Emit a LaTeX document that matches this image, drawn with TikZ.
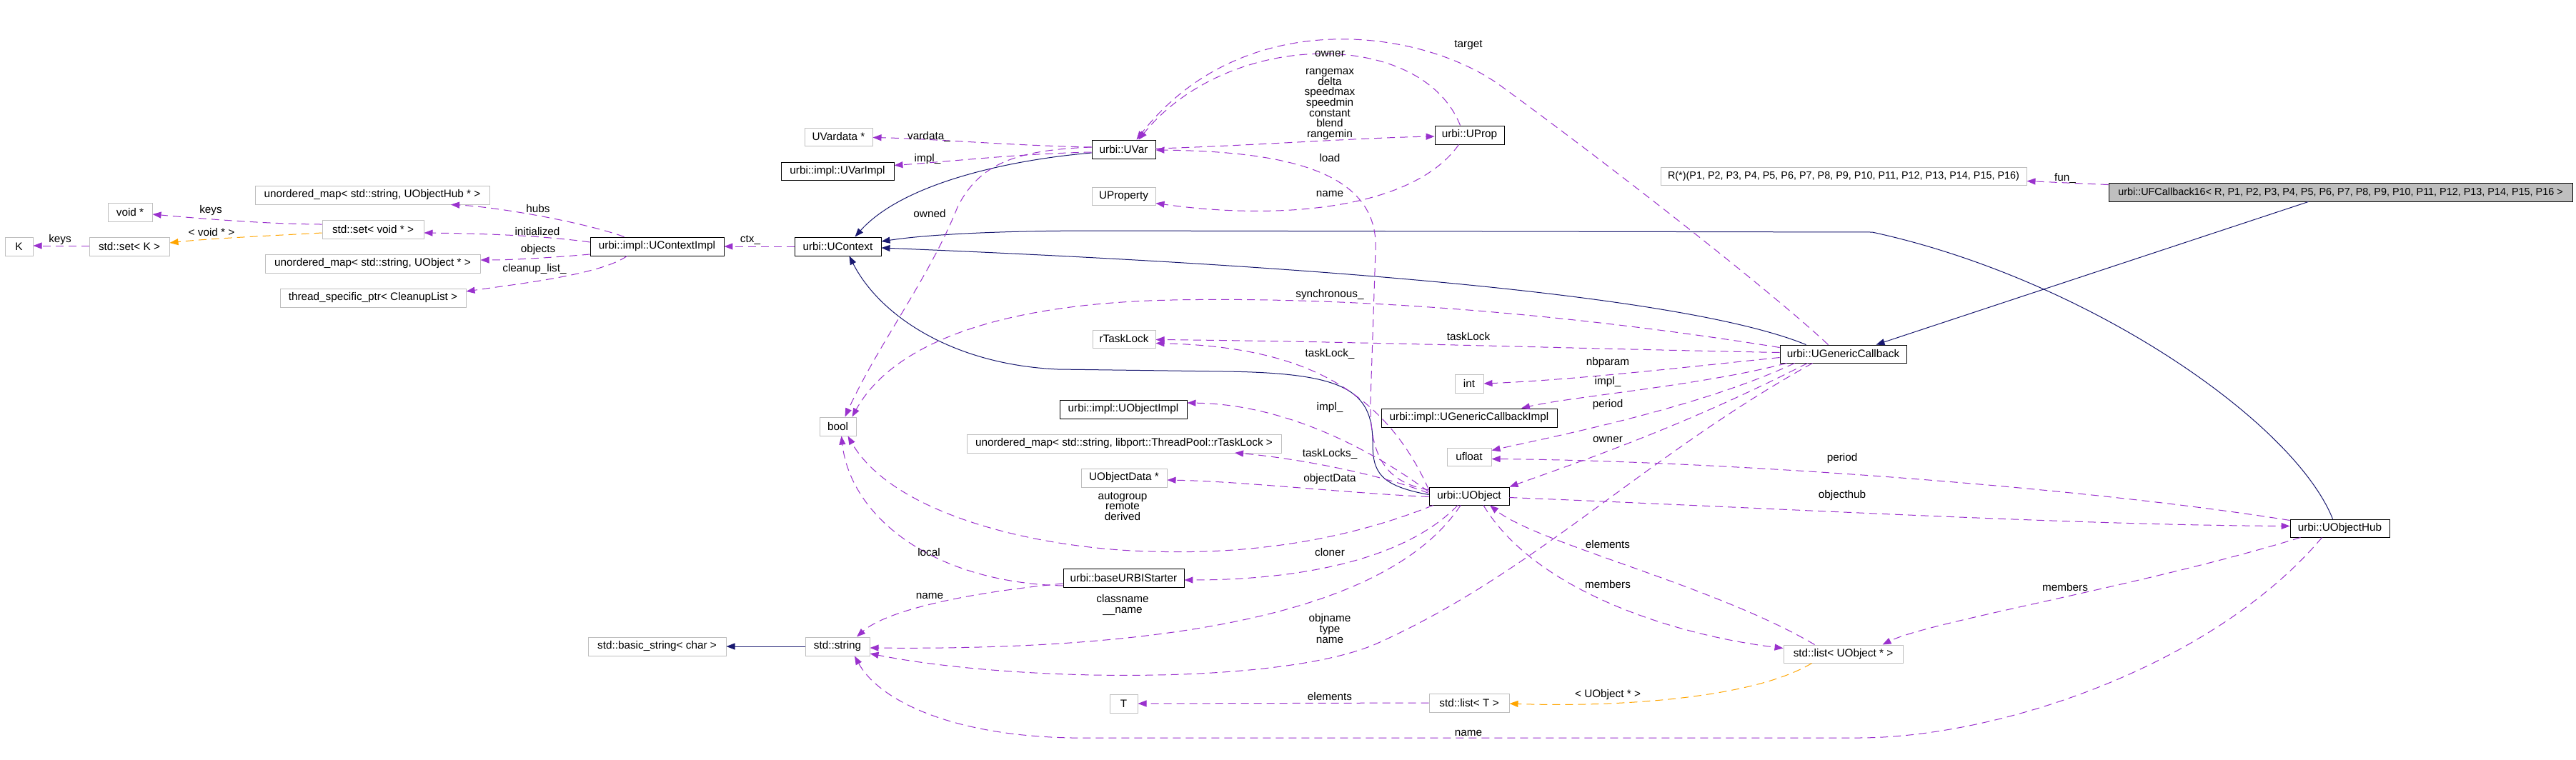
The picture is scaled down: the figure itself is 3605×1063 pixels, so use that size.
\documentclass[tikz,border=0pt]{standalone}
\usepackage{fontspec}
\setmainfont{Liberation Sans}
\usetikzlibrary{arrows.meta}
\definecolor{mpurple}{HTML}{9A32CD}
\definecolor{morange}{HTML}{FFA500}
\definecolor{mnavy}{HTML}{191970}
\definecolor{boxgray}{HTML}{BFBFBF}
\newcommand\fs{\fontsize{15.3}{14.7}\selectfont}
\newcommand\fsm{\fontsize{14.4}{14.7}\selectfont}
\newcommand\nodebox[7]{\node[#1,minimum width={(#5-#3)*1pt},minimum height={(#6-#4)*1pt}] (#2) at ({(#3+#5)/2},{(#4+#6)/2}) {#7};}
\begin{document}
\begin{tikzpicture}[x=1pt,y=-1pt,
  bbox/.style={draw=black,line width=0.9pt,fill=white,inner sep=0pt,font=\fs},
  gbox/.style={draw=boxgray,line width=1pt,fill=white,inner sep=0pt,font=\fs},
  fbox/.style={draw=black,line width=0.9pt,fill=boxgray,inner sep=0pt,font=\fsm},
  hbox/.style={draw=boxgray,line width=1pt,fill=white,inner sep=0pt,font=\fsm},
  mem/.style={draw=mpurple,line width=1pt,dash pattern=on 11pt off 7pt,-{Triangle[length=12pt,width=9pt]}},
  tpl/.style={draw=morange,line width=1pt,dash pattern=on 11pt off 7pt,-{Triangle[length=12pt,width=9pt]}},
  inh/.style={draw=mnavy,line width=1pt,-{Triangle[length=12pt,width=9pt]}},
  lbl/.style={font=\fs,inner sep=0pt,align=center}]
\useasboundingbox (0,0) rectangle (3605,1063);
\fill[white] (0,0) rectangle (3605,1063);
% nodes
\nodebox{fbox}{ufc}{2951}{256}{3600}{282}{urbi::UFCallback16< R, P1, P2, P3, P4, P5, P6, P7, P8, P9, P10, P11, P12, P13, P14, P15, P16 >}
\nodebox{hbox}{rfun}{2324}{234}{2836}{259}{R(*)(P1, P2, P3, P4, P5, P6, P7, P8, P9, P10, P11, P12, P13, P14, P15, P16)}
\nodebox{bbox}{ugc}{2491}{483}{2668}{508}{urbi::UGenericCallback}
\nodebox{bbox}{uvar}{1528}{196}{1617}{222}{urbi::UVar}
\nodebox{bbox}{uprop}{2008}{176}{2105}{202}{urbi::UProp}
\nodebox{gbox}{uvardata}{1126}{179}{1221}{204}{UVardata *}
\nodebox{bbox}{uvarimpl}{1093}{227}{1251}{252}{urbi::impl::UVarImpl}
\nodebox{gbox}{uproperty}{1528}{262}{1617}{287}{UProperty}
\nodebox{bbox}{ucontext}{1112}{332}{1233}{358}{urbi::UContext}
\nodebox{bbox}{ucimpl}{826}{332}{1013}{358}{urbi::impl::UContextImpl}
\nodebox{gbox}{hubs}{357}{260}{685}{286}{unordered\_map< std::string, UObjectHub * >}
\nodebox{gbox}{voidp}{151}{284}{213}{310}{void *}
\nodebox{gbox}{setvoid}{451}{308}{593}{334}{std::set< void * >}
\nodebox{gbox}{setk}{125}{332}{237}{358}{std::set< K >}
\nodebox{gbox}{K}{7}{332}{46}{358}{K}
\nodebox{gbox}{objmap}{371}{356}{672}{382}{unordered\_map< std::string, UObject * >}
\nodebox{gbox}{tsp}{392}{404}{652}{430}{thread\_specific\_ptr< CleanupList >}
\nodebox{gbox}{rtask}{1529}{462}{1617}{487}{rTaskLock}
\nodebox{gbox}{bool}{1147}{584}{1198}{610}{bool}
\nodebox{bbox}{uobjimpl}{1483}{560}{1661}{586}{urbi::impl::UObjectImpl}
\nodebox{gbox}{tlmap}{1353}{608}{1793}{634}{unordered\_map< std::string, libport::ThreadPool::rTaskLock >}
\nodebox{gbox}{uobjdata}{1513}{656}{1633}{682}{UObjectData *}
\nodebox{gbox}{int}{2036}{524}{2076}{550}{int}
\nodebox{bbox}{ugcimpl}{1933}{572}{2179}{598}{urbi::impl::UGenericCallbackImpl}
\nodebox{gbox}{ufloat}{2025}{627}{2087}{652}{ufloat}
\nodebox{bbox}{uobject}{2000}{682}{2112}{707}{urbi::UObject}
\nodebox{bbox}{hub}{3205}{727}{3344}{752}{urbi::UObjectHub}
\nodebox{gbox}{listuo}{2496}{903}{2663}{928}{std::list< UObject * >}
\nodebox{gbox}{listt}{2000}{971}{2112}{997}{std::list< T >}
\nodebox{bbox}{starter}{1488}{796}{1657}{822}{urbi::baseURBIStarter}
\nodebox{gbox}{str}{1127}{892}{1217}{918}{std::string}
\nodebox{gbox}{basicstr}{823}{892}{1016}{918}{std::basic\_string< char >}
\nodebox{gbox}{T}{1553}{972}{1592}{998}{T}
% inheritance
\draw[inh] ([shift={(-45,0)}]ufc.south) -- ([shift={(46,0)}]ugc.north);
\draw[inh] ([shift={(0,5)}]uvar.west) .. controls (1400,225) and (1260,260) .. ([shift={(24,0)}]ucontext.north);
\draw[inh] ([shift={(-52,0)}]ugc.north) .. controls (2350,410) and (1800,370) .. ([shift={(0,2)}]ucontext.east);
\draw[inh] ([shift={(-10,0)}]hub.north) .. controls (3210,590) and (2920,390) .. (2620,325) -- (1534,323) .. controls (1400,323) and (1300,328) .. ([shift={(0,-7)}]ucontext.east);
\draw[inh] ([shift={(0,-2)}]uobject.west) .. controls (1930,680) and (1921,660) .. (1921,620) .. controls (1921,545) and (1880,522) .. (1712,520) -- (1480,517) .. controls (1330,510) and (1230,440) .. ([shift={(16,0)}]ucontext.south);
\draw[inh] (str.west) -- (basicstr.east);
% members
\draw[mem] ([shift={(0,3)}]ufc.north west) -- ([shift={(0,7)}]rfun.east);
\draw[mem] ([shift={(0,-3)}]uvar.west) .. controls (1420,204) and (1300,194) .. ([shift={(0,1)}]uvardata.east);
\draw[mem] ([shift={(0,4)}]uvar.west) .. controls (1430,215) and (1330,226) .. ([shift={(0,-8)}]uvarimpl.east);
\draw[mem] ([shift={(0,-1)}]uvar.east) .. controls (1750,204) and (1900,193) .. ([shift={(0,2)}]uprop.west);
\draw[mem] ([shift={(-13,0)}]uprop.north) .. controls (1990,40) and (1720,40) .. ([shift={(21,0)}]uvar.north);
\draw[mem] ([shift={(-21,0)}]ugc.north) .. controls (2470,400) and (2232,216) .. (2100,120) .. controls (1990,40) and (1740,5) .. ([shift={(18,0)}]uvar.north);
\draw[mem] ([shift={(0,-8.5)}]uobject.west) .. controls (1940,675) and (1916,640) .. (1918,560) -- (1925,350) .. controls (1930,240) and (1800,212) .. ([shift={(0,1)}]uvar.east);
\draw[mem] ([shift={(-15,0)}]uprop.south) .. controls (1980,290) and (1800,310) .. ([shift={(0,10)}]uproperty.east);
\draw[mem] (ucontext.west) -- (ucimpl.east);
\draw[mem] ([shift={(-46,0)}]ucimpl.north) .. controls (820,312) and (700,290) .. ([shift={(110,0)}]hubs.south);
\draw[mem] ([shift={(0,-6)}]ucimpl.west) .. controls (760,330) and (680,327) .. ([shift={(0,5)}]setvoid.east);
\draw[mem] ([shift={(0,11)}]ucimpl.west) .. controls (780,360) and (720,364) .. ([shift={(0,-5)}]objmap.east);
\draw[mem] ([shift={(-42,0)}]ucimpl.south) .. controls (840,385) and (720,398) .. ([shift={(0,-9)}]tsp.east);
\draw[mem] ([shift={(0,-7)}]setvoid.west) .. controls (380,314) and (280,306) .. ([shift={(0,3)}]voidp.east);
\draw[tpl] ([shift={(0,5)}]setvoid.west) .. controls (380,330) and (290,334) .. ([shift={(0,-5)}]setk.east);
\draw[mem] ([shift={(0,-1)}]setk.west) -- ([shift={(0,-1)}]K.east);
\draw[mem] ([shift={(0,-3)}]uvar.west) .. controls (1420,210) and (1370,230) .. (1340,290) .. controls (1300,390) and (1230,480) .. ([shift={(10,0)}]bool.north);
\draw[mem] ([shift={(0,-9)}]ugc.west) .. controls (2200,440) and (1900,415) .. (1640,420) .. controls (1400,425) and (1250,480) .. ([shift={(20,0)}]bool.north);
\draw[mem] ([shift={(0,-2)}]ugc.west) .. controls (2200,488) and (1900,478) .. ([shift={(0,1)}]rtask.east);
\draw[mem] ([shift={(0,4)}]uobject.north west) .. controls (1930,530) and (1800,485) .. ([shift={(0,6)}]rtask.east);
\draw[mem] ([shift={(0,-6)}]uobject.west) .. controls (1920,630) and (1800,566) .. ([shift={(0,-9)}]uobjimpl.east);
\draw[mem] ([shift={(0,-4)}]uobject.west) .. controls (1920,660) and (1800,640) .. ([shift={(155,13)}]tlmap.center);
\draw[mem] ([shift={(0,1)}]uobject.west) .. controls (1880,690) and (1740,674) .. ([shift={(0,3)}]uobjdata.east);
\draw[mem] ([shift={(6,0)}]uobject.south west) .. controls (1850,770) and (1700,775) .. (1610,772) .. controls (1450,768) and (1250,720) .. ([shift={(14,0)}]bool.south);
\draw[mem] ([shift={(0,11)}]starter.west) .. controls (1300,815) and (1190,720) .. ([shift={(5,0)}]bool.south);
\draw[mem] ([shift={(0,8)}]starter.west) .. controls (1350,830) and (1240,855) .. ([shift={(27,0)}]str.north);
\draw[mem] ([shift={(-16,0)}]uobject.south) .. controls (1960,790) and (1800,812) .. ([shift={(0,3)}]starter.east);
\draw[mem] ([shift={(-12,0)}]uobject.south) .. controls (1930,880) and (1550,910) .. ([shift={(0,2)}]str.east);
\draw[mem] ([shift={(-43,0)}]ugc.south) .. controls (2300,640) and (2150,800) .. (1929,900) .. controls (1796,960) and (1420,955) .. ([shift={(0,10)}]str.east);
\draw[mem] ([shift={(0,5)}]ugc.west) .. controls (2350,515) and (2200,532) .. (int.east);
\draw[mem] ([shift={(-79,0)}]ugc.south) .. controls (2380,540) and (2200,555) .. ([shift={(73,0)}]ugcimpl.north);
\draw[mem] ([shift={(-68,0)}]ugc.south) .. controls (2380,570) and (2180,610) .. ([shift={(0,-9)}]ufloat.east);
\draw[mem] ([shift={(-50,0)}]ugc.south) .. controls (2350,600) and (2200,650) .. (uobject.north east);
\draw[mem] ([shift={(0,-11)}]hub.west) .. controls (2900,680) and (2400,645) .. ([shift={(0,3)}]ufloat.east);
\draw[mem] ([shift={(0,2)}]uobject.east) .. controls (2500,712) and (2900,735) .. ([shift={(0,-3)}]hub.west);
\draw[mem] ([shift={(-55,0)}]hub.south) .. controls (3000,820) and (2700,870) .. ([shift={(55,0)}]listuo.north);
\draw[mem] ([shift={(20,0)}]uobject.south) .. controls (2150,830) and (2350,890) .. ([shift={(0,-8)}]listuo.west);
\draw[mem] ([shift={(-40,0)}]listuo.north) .. controls (2400,820) and (2150,760) .. ([shift={(29,0)}]uobject.south);
\draw[tpl] ([shift={(-44,0)}]listuo.south) .. controls (2450,980) and (2250,990) .. ([shift={(0,1)}]listt.east);
\draw[mem] (listt.west) -- (T.east);
\draw[mem] ([shift={(-25,0)}]hub.south) .. controls (3100,930) and (2800,1033) .. (2600,1033) -- (1500,1033) .. controls (1330,1030) and (1230,980) .. ([shift={(24,0)}]str.south);
% labels
\node[lbl] (lfun) at (2890,249) {fun\_};
\node[lbl] (lvardata) at (1300,191) {vardata\_};
\node[lbl] (limplv) at (1298,223) {impl\_};
\node[lbl] (lowned) at (1301,299) {owned};
\node[lbl] (ltarget) at (2055,63) {target};
\node[lbl] (lowner) at (1861,75) {owner};
\node[lbl] (lrange) at (1861,146) {rangemax\\delta\\speedmax\\speedmin\\constant\\blend\\rangemin};
\node[lbl] (lload) at (1861,221) {load};
\node[lbl] (lname1) at (1861,271) {name};
\node[lbl] (lctx) at (1050,336) {ctx\_};
\node[lbl] (lhubs) at (753,292) {hubs};
\node[lbl] (linit) at (752,324) {initialized};
\node[lbl] (lobjs) at (753,350) {objects};
\node[lbl] (lclean) at (748,377) {cleanup\_list\_};
\node[lbl] (lkeys1) at (295,295) {keys};
\node[lbl] (lvoid) at (296,325) {< void * >};
\node[lbl] (lkeys2) at (84,336) {keys};
\node[lbl] (lsync) at (1861,413) {synchronous\_};
\node[lbl] (ltl) at (2055,471) {taskLock};
\node[lbl] (ltl2) at (1861,495) {taskLock\_};
\node[lbl] (limpl2) at (1861,571) {impl\_};
\node[lbl] (ltls) at (1861,635) {taskLocks\_};
\node[lbl] (lod) at (1861,671) {objectData};
\node[lbl] (lauto) at (1571,709) {autogroup\\remote\\derived};
\node[lbl] (llocal) at (1300,773) {local};
\node[lbl] (lcloner) at (1861,773) {cloner};
\node[lbl] (lname2) at (1301,834) {name};
\node[lbl] (lclass) at (1571,847) {classname\\\_\_name};
\node[lbl] (lobjname) at (1861,880) {objname\\type\\name};
\node[lbl] (lelem1) at (1861,975) {elements};
\node[lbl] (lname3) at (2055,1026) {name};
\node[lbl] (lnb) at (2250,508) {nbparam};
\node[lbl] (limpl3) at (2250,535) {impl\_};
\node[lbl] (lper1) at (2250,567) {period};
\node[lbl] (lowner2) at (2250,615) {owner};
\node[lbl] (lper2) at (2578,642) {period};
\node[lbl] (lobjhub) at (2578,694) {objecthub};
\node[lbl] (lelem2) at (2250,762) {elements};
\node[lbl] (lmem1) at (2250,818) {members};
\node[lbl] (lmem2) at (2890,822) {members};
\node[lbl] (luo) at (2250,973) {< UObject * >};
\end{tikzpicture}
\end{document}
